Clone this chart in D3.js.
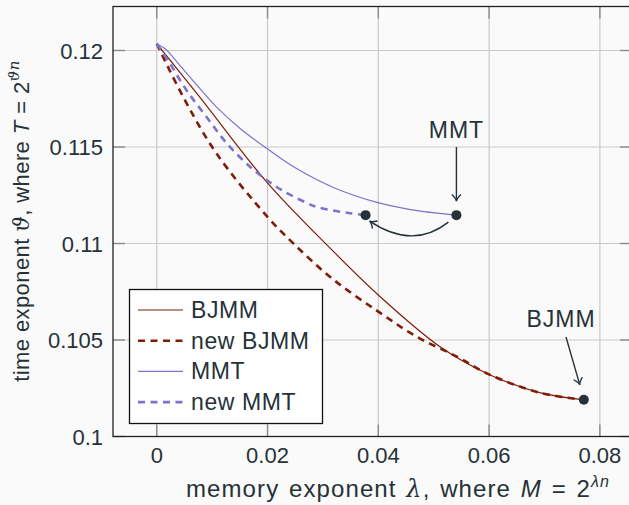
<!DOCTYPE html>
<html>
<head>
<meta charset="utf-8">
<script src="https://cdn.jsdelivr.net/npm/d3@7"></script>
<style>
  body { margin: 0; background: #fafafa; }
  svg { display: block; font-family: "Liberation Sans", Arial, sans-serif; }
</style>
</head>
<body>
<div id="chart"></div>
<script>
// curves: [memory exponent, time exponent]
const bjmm = [[0, 0.12035], [0.0078, 0.11757], [0.0199, 0.11317], [0.0313, 0.10976], [0.0400, 0.10733],
  [0.0512, 0.10464], [0.0602, 0.10319], [0.0693, 0.10226], [0.0771, 0.10190]]
const newBjmm = [[0, 0.12035], [0.0048, 0.11758], [0.0108, 0.11466], [0.0199, 0.11141], [0.0246, 0.11002],
  [0.0318, 0.10815], [0.0400, 0.10647], [0.0470, 0.10516], [0.0543, 0.10412],
  [0.0602, 0.10319], [0.0693, 0.10226], [0.0771, 0.10190]]
const mmt = [[0, 0.12035], [0.0015, 0.12009], [0.0024, 0.11983], [0.0042, 0.11922], [0.0078, 0.11802],
  [0.0108, 0.11707], [0.0151, 0.11595], [0.0199, 0.11492], [0.0250, 0.11392], [0.0319, 0.11290],
  [0.0391, 0.11218], [0.0458, 0.11176], [0.0541, 0.11147]]
const newMmt = [[0, 0.12035], [0.0024, 0.11931], [0.0054, 0.11793], [0.0090, 0.11655], [0.0127, 0.11517],
  [0.0169, 0.11396], [0.0199, 0.11328], [0.0229, 0.11271], [0.0271, 0.11210], [0.0290, 0.11188],
  [0.0349, 0.11157], [0.0377, 0.11147]]

const xTicks = [0, 0.02, 0.04, 0.06, 0.08]
const xTickLabels = ["0", "0.02", "0.04", "0.06", "0.08"]
const yTicks = [0.1, 0.105, 0.11, 0.115, 0.12]
const yTickLabels = ["0.1", "0.105", "0.11", "0.115", "0.12"]

const seriesNames = ["BJMM", "new BJMM", "MMT", "new MMT"]
const dots = [[0.0541, 0.11147], [0.0377, 0.11147], [0.0771, 0.10190]]

const W = 629, H = 505
const red = "#801c08", purple = "#7b74c9", ink = "#263238"

const x = d3.scaleLinear().domain([-0.0079, 0.0858]).range([113, 632])
const y = d3.scaleLinear().domain([0.1, 0.12228]).range([436.5, 6.5])

const svg = d3.select("#chart").append("svg").attr("width", W).attr("height", H)

// grid
svg.append("g").selectAll("line").data(xTicks).join("line")
  .attr("x1", d => x(d)).attr("x2", d => x(d)).attr("y1", y.range()[1]).attr("y2", y.range()[0])
  .attr("stroke", "#c9c9c9").attr("stroke-width", 1.2)
svg.append("g").selectAll("line").data(yTicks).join("line")
  .attr("y1", d => y(d)).attr("y2", d => y(d)).attr("x1", x.range()[0]).attr("x2", x.range()[1])
  .attr("stroke", "#c9c9c9").attr("stroke-width", 1.2)

// inward ticks on all sides
const tk = 12
const ticks = svg.append("g").attr("stroke", "#8a8a8a").attr("stroke-width", 1.4)
xTicks.forEach(v => {
  ticks.append("line").attr("x1", x(v)).attr("x2", x(v)).attr("y1", y.range()[0]).attr("y2", y.range()[0] - tk)
  ticks.append("line").attr("x1", x(v)).attr("x2", x(v)).attr("y1", y.range()[1]).attr("y2", y.range()[1] + tk)
})
yTicks.forEach(v => {
  ticks.append("line").attr("y1", y(v)).attr("y2", y(v)).attr("x1", x.range()[0]).attr("x2", x.range()[0] + tk)
  ticks.append("line").attr("y1", y(v)).attr("y2", y(v)).attr("x1", x.range()[1]).attr("x2", x.range()[1] - tk)
})

// frame
svg.append("rect").attr("x", x.range()[0]).attr("y", y.range()[1])
  .attr("width", x.range()[1] - x.range()[0]).attr("height", y.range()[0] - y.range()[1])
  .attr("fill", "none").attr("stroke", "#222").attr("stroke-width", 1.3)

// tick labels
svg.append("g").selectAll("text").data(xTicks).join("text")
  .attr("x", d => x(d)).attr("y", 463).attr("text-anchor", "middle")
  .attr("font-size", 22).attr("fill", ink).text((d, i) => xTickLabels[i])
svg.append("g").selectAll("text").data(yTicks).join("text")
  .attr("x", 103).attr("y", d => y(d) + 8).attr("text-anchor", "end")
  .attr("font-size", 22).attr("fill", ink).text((d, i) => yTickLabels[i])

// axis labels
const xl = svg.append("text").attr("x", 398).attr("y", 497).attr("text-anchor", "middle")
  .attr("font-size", 24).attr("letter-spacing", 1.1).attr("word-spacing", 2).attr("fill", ink)
xl.append("tspan").text("memory exponent ")
xl.append("tspan").attr("font-family", "DejaVu Serif").attr("font-style", "italic").text("λ")
xl.append("tspan").text(", where ")
xl.append("tspan").attr("font-style", "italic").text("M")
xl.append("tspan").text(" = 2")
xl.append("tspan").attr("font-size", 16).attr("dy", -10).attr("font-style", "italic").text("λn")

const yl = svg.append("text").attr("transform", "translate(29,221) rotate(-90)").attr("text-anchor", "middle")
  .attr("font-size", 22).attr("letter-spacing", 0.4).attr("fill", ink)
yl.append("tspan").text("time exponent ")
yl.append("tspan").attr("font-family", "DejaVu Serif").attr("font-style", "italic").text("ϑ")
yl.append("tspan").text(", where ")
yl.append("tspan").attr("font-style", "italic").text("T")
yl.append("tspan").text(" = 2")
yl.append("tspan").attr("font-size", 15).attr("dy", -10).attr("font-family", "DejaVu Serif").attr("font-style", "italic").text("ϑn")

// curves
const line = d3.line().x(d => x(d[0])).y(d => y(d[1])).curve(d3.curveCatmullRom.alpha(0.5))
const styles = [
  { data: bjmm, color: red, width: 1.2, dash: null },
  { data: newBjmm, color: red, width: 2.6, dash: "7,5.5" },
  { data: mmt, color: purple, width: 1.2, dash: null },
  { data: newMmt, color: purple, width: 2.6, dash: "7,5.5" }
]
const plot = svg.append("g")
styles.forEach(s => {
  plot.append("path").attr("d", line(s.data)).attr("fill", "none")
    .attr("stroke", s.color).attr("stroke-width", s.width).attr("stroke-dasharray", s.dash)
})

// end-point dots
svg.append("g").selectAll("circle").data(dots).join("circle")
  .attr("cx", d => x(d[0])).attr("cy", d => y(d[1])).attr("r", 5).attr("fill", ink)

// annotations
function head(g, tx, ty, ang) {
  // open "to" style arrow head pointing in direction ang (radians)
  const l = 8, a = 0.6
  const p1 = [tx - l * Math.cos(ang - a), ty - l * Math.sin(ang - a)]
  const p2 = [tx - l * Math.cos(ang + a), ty - l * Math.sin(ang + a)]
  g.append("path").attr("d", `M${p1[0]},${p1[1]} Q${tx - 2 * Math.cos(ang)},${ty - 2 * Math.sin(ang)} ${tx},${ty} Q${tx - 2 * Math.cos(ang)},${ty - 2 * Math.sin(ang)} ${p2[0]},${p2[1]}`)
    .attr("fill", "none").attr("stroke", ink).attr("stroke-width", 1.4)
}
const ann = svg.append("g")
const mm = dots[0], nm = dots[1], bj = dots[2]

ann.append("text").attr("x", x(mm[0])).attr("y", 138).attr("text-anchor", "middle")
  .attr("font-size", 23).attr("letter-spacing", 1).attr("fill", ink).text("MMT")
ann.append("line").attr("x1", x(mm[0])).attr("x2", x(mm[0])).attr("y1", 147).attr("y2", y(mm[1]) - 14)
  .attr("stroke", ink).attr("stroke-width", 1.4)
head(ann, x(mm[0]), y(mm[1]) - 14, Math.PI / 2)

ann.append("text").attr("x", 561).attr("y", 327).attr("text-anchor", "middle")
  .attr("font-size", 23).attr("letter-spacing", 1).attr("fill", ink).text("BJMM")
const bx = x(bj[0]) - 4, by = y(bj[1]) - 15
ann.append("line").attr("x1", 566).attr("y1", 337).attr("x2", bx).attr("y2", by)
  .attr("stroke", ink).attr("stroke-width", 1.4)
head(ann, bx, by, Math.atan2(by - 337, bx - 566))

// curved arrow from MMT end to new MMT end
const sx = x(mm[0]) - 8, sy = y(mm[1]) + 7, ex = x(nm[0]) + 4, ey = y(nm[1]) + 6
ann.append("path").attr("d", `M${sx},${sy} Q${(sx + ex) / 2 + 4},${sy + 28} ${ex},${ey}`)
  .attr("fill", "none").attr("stroke", ink).attr("stroke-width", 1.4)
head(ann, ex, ey, Math.atan2(ey - (sy + 28), ex - ((sx + ex) / 2 + 4)))

// legend
const lg = svg.append("g")
lg.append("rect").attr("x", 129.5).attr("y", 289.5).attr("width", 193).attr("height", 134)
  .attr("fill", "white").attr("stroke", "#111").attr("stroke-width", 1.3)
styles.forEach((s, i) => {
  const ly = 310 + i * 30.7
  lg.append("line").attr("x1", 138).attr("x2", 183).attr("y1", ly).attr("y2", ly)
    .attr("stroke", s.color).attr("stroke-width", s.dash ? 2.6 : 1.2).attr("stroke-dasharray", s.dash)
  lg.append("text").attr("x", 191).attr("y", ly + 8).attr("font-size", 23).attr("letter-spacing", 0.6)
    .attr("fill", ink).text(seriesNames[i])
})
</script>
</body>
</html>
